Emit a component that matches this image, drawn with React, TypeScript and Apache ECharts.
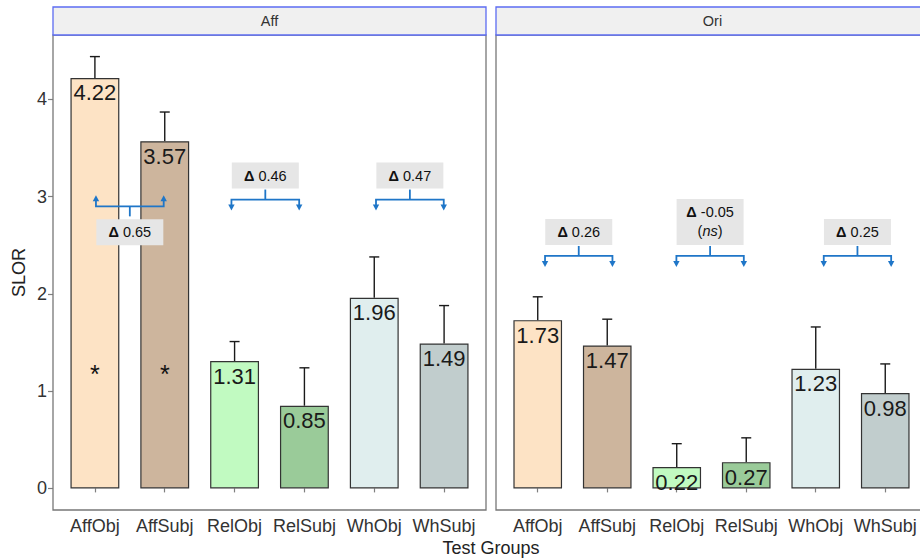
import React, { useEffect, useRef } from 'react';
import * as echarts from 'echarts';

// ---- data ----
const categories = ['AffObj', 'AffSubj', 'RelObj', 'RelSubj', 'WhObj', 'WhSubj'];
const panelTitles = ['Aff', 'Ori'];

const affMeans = [4.22, 3.57, 1.31, 0.85, 1.96, 1.49];
const affUpper = [4.44, 3.87, 1.51, 1.24, 2.38, 1.88];
const oriMeans = [1.73, 1.47, 0.22, 0.27, 1.23, 0.98];
const oriUpper = [1.97, 1.74, 0.46, 0.52, 1.66, 1.28];

const barColors = ['#fde3c5', '#cdb59d', '#c1fac1', '#9acb99', '#e0eeee', '#c1cdcd'];

// significance stars (Aff panel)
const affStarIdx = [0, 1];
const affStarLevel = [1.18, 1.18];

// pairwise differences: first category index of each pair
const pairStart = [0, 2, 4];
const affDeltaText = ['0.65', '0.46', '0.47'];
const affDeltaNote = ['', '', ''];
const affBracketLevel = [2.9, 2.97, 2.97];
const affArrowDir = ['up', 'down', 'down'];
const oriDeltaText = ['0.26', '-0.05', '0.25'];
const oriDeltaNote = ['', 'ns', ''];
const oriBracketLevel = [2.39, 2.39, 2.39];
const oriArrowDir = ['down', 'down', 'down'];

const yTicks = [0, 1, 2, 3, 4];

// ---- layout ----
const FONT = '"Liberation Sans", Arial, Helvetica, sans-serif';
const W = 920;
const H = 560;
const PANEL_LEFT = [53, 496];
const PANEL_W = 433;
const PANEL_TOP = 35;
const PANEL_BOTTOM = 510;
const STRIP_TOP = 7;
const BAND = PANEL_W / 6.2;
const INSET = 0.1 * BAND;
const Y_MIN = -0.222;
const Y_MAX = 4.662;
const affShift = [0, -0.06, 0.01];
const oriShift = [0.09, -0.02, 0.1];
const BLUE = '#1f76c8';

function errorBarSeries(means: number[], upper: number[], idx: number) {
  return {
    type: 'custom',
    xAxisIndex: idx,
    yAxisIndex: idx,
    z: 1,
    silent: true,
    encode: { x: 0, y: [1, 2] },
    data: means.map((m, i) => [i, m, upper[i]]),
    renderItem: (params: any, api: any) => {
      const x = api.value(0);
      const base = api.coord([x, api.value(1)]);
      const top = api.coord([x, api.value(2)]);
      const s = { stroke: '#1a1a1a', lineWidth: 1.4 };
      return {
        type: 'group',
        children: [
          { type: 'line', shape: { x1: base[0], y1: base[1], x2: top[0], y2: top[1] }, style: s },
          { type: 'line', shape: { x1: top[0] - 5, y1: top[1], x2: top[0] + 5, y2: top[1] }, style: s },
        ],
      };
    },
  };
}

function deltaSeries(
  texts: string[],
  notes: string[],
  levels: number[],
  dirs: string[],
  shifts: number[],
  idx: number
) {
  return {
    type: 'custom',
    xAxisIndex: idx,
    yAxisIndex: idx,
    z: 5,
    silent: true,
    encode: { x: 0, y: 1 },
    data: pairStart.map((s, i) => [s, levels[i]]),
    renderItem: (params: any, api: any) => {
      const i = params.dataIndex;
      const p0 = api.coord([api.value(0), api.value(1)]);
      const p1 = api.coord([api.value(0) + 1, api.value(1)]);
      const band = p1[0] - p0[0];
      const cx = (p0[0] + p1[0]) / 2 + shifts[i] * band;
      const half = 0.485 * band;
      const y = p0[1];
      const up = dirs[i] === 'up';
      const sgn = up ? -1 : 1; // direction the arrows point
      const line = { stroke: BLUE, lineWidth: 1.8, fill: null };
      const arm = 10;
      const tipY = y + sgn * arm;
      const head = (x: number) => ({
        type: 'polygon',
        shape: { points: [[x, tipY + sgn * 1], [x - 3.2, tipY - sgn * 5], [x + 3.2, tipY - sgn * 5]] },
        style: { fill: BLUE },
      });
      const note = notes[i];
      const boxH = note ? 46 : 26;
      const boxW = 67;
      const boxTop = up ? y + 13 : y - 11 - boxH;
      const label = note
        ? `{b|Δ} ${texts[i]}\n({i|${note}})`
        : `{b|Δ} ${texts[i]}`;
      return {
        type: 'group',
        children: [
          {
            type: 'polyline',
            shape: { points: [[cx - half, tipY - sgn * 4], [cx - half, y], [cx + half, y], [cx + half, tipY - sgn * 4]] },
            style: line,
          },
          { type: 'line', shape: { x1: cx, y1: y, x2: cx, y2: y - sgn * arm }, style: line },
          head(cx - half),
          head(cx + half),
          {
            type: 'rect',
            shape: { x: cx - boxW / 2, y: boxTop, width: boxW, height: boxH },
            style: { fill: '#e6e6e6' },
          },
          {
            type: 'text',
            x: cx,
            y: boxTop + boxH / 2,
            style: {
              text: label,
              fontSize: 14.5,
              fontFamily: FONT,
              fill: '#111',
              align: 'center',
              verticalAlign: 'middle',
              lineHeight: 19,
              rich: {
                b: { fontWeight: 'bold', fontSize: 14.5, fontFamily: FONT, fill: '#111' },
                i: { fontStyle: 'italic', fontSize: 14.5, fontFamily: FONT, fill: '#111' },
              },
            },
          },
        ],
      };
    },
  };
}

function barSeries(means: number[], idx: number) {
  return {
    type: 'bar',
    xAxisIndex: idx,
    yAxisIndex: idx,
    barWidth: '70%',
    z: 2,
    data: means.map((v, i) => ({ value: v, itemStyle: { color: barColors[i] } })),
    itemStyle: { borderColor: '#333', borderWidth: 1.2 },
    label: {
      show: true,
      position: 'insideTop',
      distance: 4,
      fontSize: 22,
      fontFamily: FONT,
      color: '#1a1a1a',
      formatter: (p: any) => Number(p.value).toFixed(2),
    },
  };
}

function buildOption() {
  const grids = PANEL_LEFT.map((l) => ({
    left: l + INSET,
    top: PANEL_TOP,
    width: PANEL_W - 2 * INSET,
    height: PANEL_BOTTOM - PANEL_TOP,
  }));

  const xAxes = PANEL_LEFT.map((_, i) => ({
    type: 'category',
    gridIndex: i,
    data: categories,
    axisLine: { show: false },
    axisTick: { show: true, alignWithLabel: true, length: 4, lineStyle: { color: '#7f7f7f', width: 1.2 } },
    axisLabel: { interval: 0, fontSize: 18, fontFamily: FONT, color: '#333', margin: 7 },
    splitLine: { show: false },
  }));

  const yAxes = PANEL_LEFT.map((_, i) => ({
    type: 'value',
    gridIndex: i,
    min: Y_MIN,
    max: Y_MAX,
    offset: INSET,
    axisLine: { show: false },
    axisTick: {
      show: i === 0,
      length: 5,
      customValues: yTicks,
      lineStyle: { color: '#7f7f7f', width: 1.2 },
    },
    axisLabel: {
      show: i === 0,
      customValues: yTicks,
      fontSize: 18,
      fontFamily: FONT,
      color: '#333',
      margin: 6,
    },
    splitLine: { show: false },
  }));

  const graphic: any[] = [];
  PANEL_LEFT.forEach((l, i) => {
    graphic.push({
      type: 'rect',
      z: 20,
      silent: true,
      shape: { x: l, y: PANEL_TOP, width: PANEL_W, height: PANEL_BOTTOM - PANEL_TOP },
      style: { fill: 'none', stroke: '#777', lineWidth: 1.3 },
    });
    graphic.push({
      type: 'rect',
      z: 20,
      silent: true,
      shape: { x: l, y: STRIP_TOP, width: PANEL_W, height: PANEL_TOP - STRIP_TOP },
      style: { fill: '#f0f0f0', stroke: '#5c6cf2', lineWidth: 1.3 },
    });
    graphic.push({
      type: 'text',
      z: 21,
      silent: true,
      x: l + PANEL_W / 2,
      y: (STRIP_TOP + PANEL_TOP) / 2,
      style: {
        text: panelTitles[i],
        fontSize: 14.5,
        fontFamily: FONT,
        fill: '#333',
        align: 'center',
        verticalAlign: 'middle',
      },
    });
  });
  graphic.push({
    type: 'text',
    silent: true,
    x: (PANEL_LEFT[0] + PANEL_LEFT[1] + PANEL_W) / 2,
    y: 548,
    style: { text: 'Test Groups', fontSize: 18, fontFamily: FONT, fill: '#222', align: 'center', verticalAlign: 'middle' },
  });
  graphic.push({
    type: 'text',
    silent: true,
    x: 19,
    y: (PANEL_TOP + PANEL_BOTTOM) / 2,
    rotation: Math.PI / 2,
    style: { text: 'SLOR', fontSize: 18, fontFamily: FONT, fill: '#222', align: 'center', verticalAlign: 'middle' },
  });

  const starSeries = {
    type: 'custom',
    xAxisIndex: 0,
    yAxisIndex: 0,
    z: 4,
    silent: true,
    encode: { x: 0, y: 1 },
    data: affStarIdx.map((c, i) => [c, affStarLevel[i]]),
    renderItem: (params: any, api: any) => {
      const p = api.coord([api.value(0), api.value(1)]);
      return {
        type: 'text',
        x: p[0],
        y: p[1],
        style: { text: '*', fontSize: 25, fontFamily: FONT, fill: '#111', align: 'center', verticalAlign: 'middle' },
      };
    },
  };

  return {
    animation: false,
    backgroundColor: '#ffffff',
    textStyle: { fontFamily: FONT },
    grid: grids,
    xAxis: xAxes,
    yAxis: yAxes,
    graphic,
    series: [
      errorBarSeries(affMeans, affUpper, 0),
      errorBarSeries(oriMeans, oriUpper, 1),
      barSeries(affMeans, 0),
      barSeries(oriMeans, 1),
      starSeries,
      deltaSeries(affDeltaText, affDeltaNote, affBracketLevel, affArrowDir, affShift, 0),
      deltaSeries(oriDeltaText, oriDeltaNote, oriBracketLevel, oriArrowDir, oriShift, 1),
    ],
  };
}

export default function App() {
  const ref = useRef<HTMLDivElement>(null);
  useEffect(() => {
    if (!ref.current) return;
    const chart = echarts.init(ref.current, null, { renderer: 'svg' });
    chart.setOption(buildOption() as any);
    return () => chart.dispose();
  }, []);
  return (
    <div
      ref={ref}
      style={{ position: 'fixed', left: 0, top: 0, width: W, height: H, background: '#fff' }}
    />
  );
}
